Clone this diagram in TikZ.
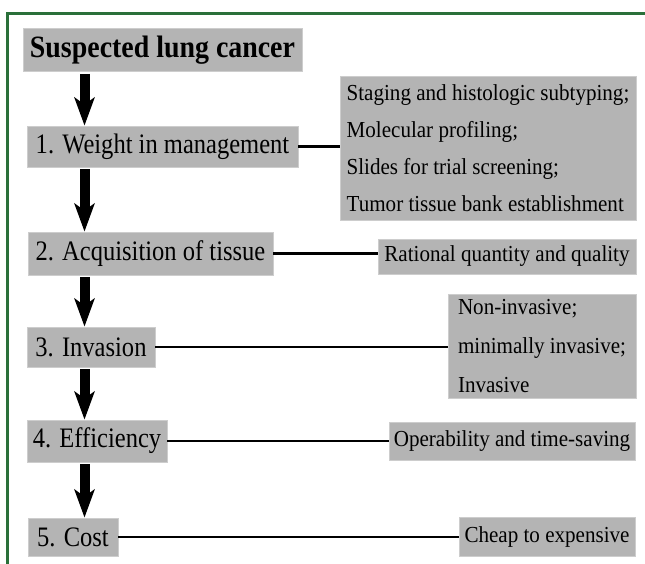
\documentclass[tikz,border=0pt]{standalone}
\usepackage{fontspec}
\setmainfont{Liberation Serif}
\newfontfamily\titlefont[FakeStretch=0.9]{Liberation Serif}
\newfontfamily\stepfont[FakeStretch=0.87]{Liberation Serif}
\newfontfamily\notefont[FakeStretch=0.92]{Liberation Serif}
\usetikzlibrary{arrows.meta}
\usetikzlibrary{positioning}
\definecolor{framegreen}{RGB}{42,112,58}
\definecolor{boxgray}{RGB}{180,180,180}
\definecolor{rimgray}{RGB}{205,205,205}

\tikzset{
  stepnode/.style={fill=boxgray,draw=rimgray,line width=0.8pt,inner sep=0pt,
    font=\stepfont\fontsize{28.2}{32}\selectfont},
  notenode/.style={fill=boxgray,draw=rimgray,line width=0.8pt,inner sep=0pt,
    align=left,font=\notefont\fontsize{22.9}{37}\selectfont},
  bigarrow/.style={line width=10pt,shorten <=2pt,
    -{Stealth[length=28pt,width=20pt,inset=7pt]}},
  link/.style={line width=2.6pt}
}

\begin{document}
\begin{tikzpicture}[x=1pt,y=-1pt]
\useasboundingbox (0,0) rectangle (645,564);

    % frame
    \draw[framegreen,line width=3pt] (7.5,564) -- (7.5,13.5) -- (645,13.5);

    % steps
    \node[stepnode,minimum width=279pt,minimum height=43pt,
      font=\titlefont\bfseries\fontsize{31}{34}\selectfont] (title) at (162.5,50) {Suspected lung cancer};
    \node[stepnode,minimum width=271pt,minimum height=41pt] (s1) at (162.5,146.5) {1. Weight in management};
    \node[stepnode,minimum width=245pt,minimum height=43pt] (s2) at (150.5,253.5) {2. Acquisition of tissue};
    \node[stepnode,minimum width=128pt,minimum height=40pt] (s3) at (91,347) {3. Invasion};
    \node[stepnode,minimum width=140pt,minimum height=42pt] (s4) at (97,441) {4. Efficiency};
    \node[stepnode,minimum width=90pt,minimum height=38pt] (s5) at (73,537) {5. Cost};

    % notes
    \node[notenode,minimum width=296pt,minimum height=144pt] (r1) at (488,148)
      {Staging and histologic subtyping;\\Molecular profiling;\\Slides for trial screening;\\Tumor tissue bank establishment};
    \node[notenode,minimum width=258pt,minimum height=35pt] (r2) at (507,256.5) {Rational quantity and quality};
    \node[notenode,minimum width=188pt,minimum height=104pt,
      font=\notefont\fontsize{22.9}{39}\selectfont] (r3) at (542,346) {Non-invasive;\\minimally invasive;\\Invasive};
    \node[notenode,minimum width=246pt,minimum height=38pt] (r4) at (512,441) {Operability and time-saving};
    \node[notenode,minimum width=176pt,minimum height=39pt] (r5) at (547,536.5) {Cheap to expensive};

    % arrows down the left
    \coordinate (ax) at (84.5,0);
    \foreach \a/\b in {title/s1,s1/s2,s2/s3,s3/s4,s4/s5}
        \draw[bigarrow] (\a.south -| ax) -- (\b.north -| ax);

    % links step -> note
    \foreach \i in {1,...,5}
        \draw[link] (s\i.east) -- (s\i.east -| r\i.west);
\end{tikzpicture}
\end{document}
